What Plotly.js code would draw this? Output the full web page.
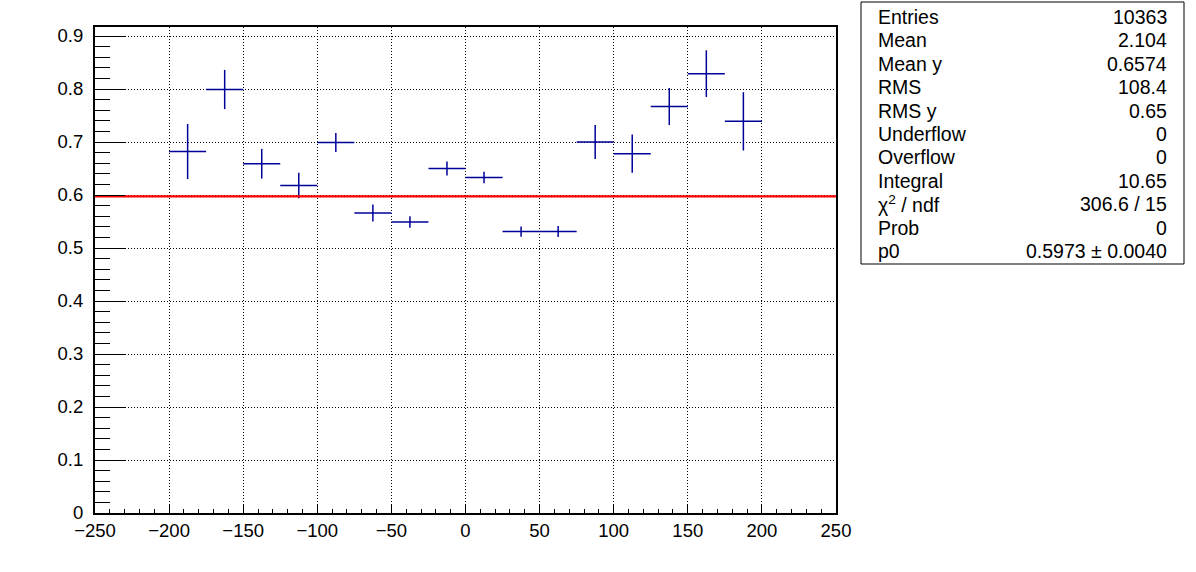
<!DOCTYPE html>
<html>
<head>
<meta charset="utf-8">
<script src="https://cdn.plot.ly/plotly-3.0.1.min.js"></script>
<style>
html, body { margin: 0; padding: 0; background: #ffffff; }
#chart { width: 1196px; height: 572px; }
</style>
</head>
<body>
<div id="chart"></div>
<script>
// ---- data ----
const binCenters = [-187.5, -162.5, -137.5, -112.5, -87.5, -62.5, -37.5, -12.5,
                    12.5, 37.5, 62.5, 87.5, 112.5, 137.5, 162.5, 187.5];
const binHalfWidth = [12.5, 12.5, 12.5, 12.5, 12.5, 12.5, 12.5, 12.5,
                      12.5, 12.5, 12.5, 12.5, 12.5, 12.5, 12.5, 12.5];
const profileValues = [0.682, 0.799, 0.659, 0.618, 0.699, 0.566, 0.549, 0.650,
                       0.633, 0.531, 0.531, 0.700, 0.678, 0.767, 0.829, 0.739];
const profileErrors = [0.052, 0.037, 0.028, 0.024, 0.018, 0.016, 0.011, 0.013,
                       0.011, 0.0097, 0.0104, 0.032, 0.036, 0.035, 0.044, 0.055];
const fitP0 = 0.5973;
const xRange = [-250, 250];
const yRange = [0, 0.917];

const statLabels = ["Entries", "Mean", "Mean y", "RMS", "RMS y", "Underflow",
                    "Overflow", "Integral", "χ<sup>2</sup> / ndf", "Prob", "p0"];
const statValues = ["10363", "2.104", "0.6574", "108.4", "0.65", "0",
                    "0", "10.65", "306.6 / 15", "0", "0.5973 ± 0.0040"];

// ---- layout geometry (pixels) ----
const W = 1196, H = 572;
const M = {l: 95, r: 360, t: 27, b: 59};
const plotW = W - M.l - M.r, plotH = H - M.t - M.b;
const px2x = p => (p - M.l) / plotW;
const px2y = p => (H - M.b - p) / plotH;

const FONT = "Liberation Sans, Arial, Helvetica, sans-serif";
const blue = "#000099";

const traces = [
  {
    type: "scatter",
    mode: "markers",
    x: binCenters,
    y: profileValues,
    marker: {size: 2, color: blue, opacity: 0},
    error_y: {type: "data", array: profileErrors, visible: true, color: blue, thickness: 1.5, width: 0},
    error_x: {type: "data", array: binHalfWidth, visible: true, color: blue, thickness: 1.5, width: 0},
    hoverinfo: "x+y",
    showlegend: false
  },
  {
    type: "scatter",
    mode: "lines",
    x: xRange,
    y: [fitP0, fitP0],
    line: {color: "#ff0000", width: 2.2},
    hoverinfo: "y",
    showlegend: false
  }
];

const annotations = [];
const rowY0 = 17, rowStep = 23.4;
statLabels.forEach((lab, i) => {
  const py = rowY0 + i * rowStep;
  annotations.push({
    xref: "paper", yref: "paper", x: px2x(876), y: px2y(py),
    xanchor: "left", yanchor: "middle", showarrow: false, text: lab,
    font: {family: FONT, size: 19.5, color: "#000"}
  });
  annotations.push({
    xref: "paper", yref: "paper", x: px2x(1169), y: px2y(py),
    xanchor: "right", yanchor: "middle", showarrow: false, text: statValues[i],
    font: {family: FONT, size: 19.5, color: "#000"}
  });
});

const layout = {
  width: W, height: H,
  margin: M,
  paper_bgcolor: "#ffffff",
  plot_bgcolor: "#ffffff",
  showlegend: false,
  font: {family: FONT, size: 18.5, color: "#000"},
  xaxis: {
    range: xRange,
    dtick: 50, tick0: -250,
    ticks: "inside", ticklen: 9, tickwidth: 1, tickcolor: "#000",
    minor: {dtick: 10, ticks: "inside", ticklen: 4, tickwidth: 1, tickcolor: "#000", showgrid: false},
    showgrid: true, gridcolor: "#000", gridwidth: 1, griddash: "1px,2px",
    zeroline: false,
    showline: true, linecolor: "#000", linewidth: 2, mirror: true,
    tickfont: {family: FONT, size: 18.5, color: "#000"},
    ticklabelstandoff: 0
  },
  yaxis: {
    range: yRange,
    dtick: 0.1, tick0: 0,
    ticks: "inside", ticklen: 30, tickwidth: 1, tickcolor: "#000",
    minor: {dtick: 0.02, ticks: "inside", ticklen: 15, tickwidth: 1, tickcolor: "#000", showgrid: false},
    showgrid: true, gridcolor: "#000", gridwidth: 1, griddash: "1px,2px",
    zeroline: false,
    showline: true, linecolor: "#000", linewidth: 2, mirror: true,
    tickfont: {family: FONT, size: 18.5, color: "#000"},
    ticklabelstandoff: 6
  },
  shapes: [
    {type: "rect", xref: "paper", yref: "paper",
     x0: px2x(861), x1: px2x(1184), y0: px2y(264), y1: px2y(2),
     line: {color: "#000", width: 1}, fillcolor: "rgba(255,255,255,0)"}
  ],
  annotations: annotations
};

Plotly.newPlot("chart", traces, layout, {displayModeBar: false, staticPlot: true});
</script>
</body>
</html>
